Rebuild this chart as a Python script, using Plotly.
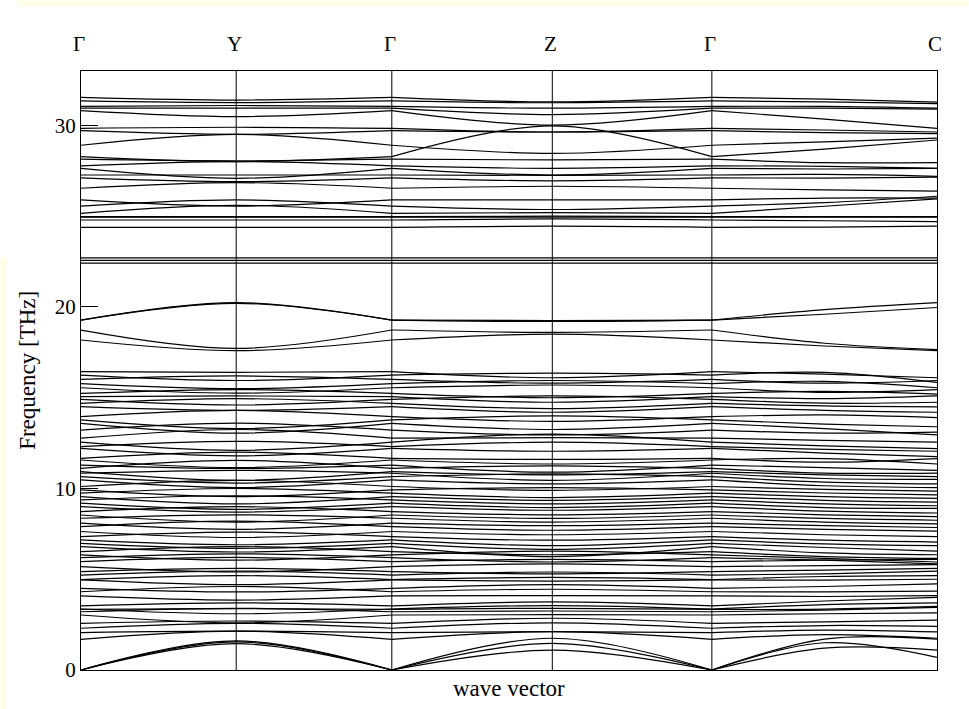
import plotly.graph_objects as go

# High-symmetry points of the path and their cumulative path length (normalised)
kpoint_labels = ["Γ", "Y", "Γ", "Z", "Γ", "C"]
kpoint_dist = [0.0, 0.1813, 0.3631, 0.5506, 0.7370, 1.0]

# Phonon branches, frequencies in THz sampled at: Γ, Y, Z, half-way along Γ–C, C
# (Γ–Y–Γ and Γ–Z–Γ are traversed symmetrically)
bands_upper = [
    [31.55, 31.40, 31.30, 31.45, 31.28],
    [31.35, 31.26, 31.25, 31.30, 31.20],
    [31.05, 31.10, 30.95, 31.05, 30.95],
    [30.95, 30.95, 30.60, 30.95, 30.90],
    [30.82, 30.49, 30.02, 30.35, 29.84],
    [29.84, 29.90, 29.64, 29.75, 29.64],
    [29.71, 29.51, 29.64, 29.60, 29.55],
    [28.91, 29.51, 28.46, 29.10, 29.30],
    [28.28, 28.01, 29.98, 28.70, 29.20],
    [28.14, 28.05, 28.10, 27.95, 27.95],
    [27.77, 28.01, 27.64, 27.75, 27.64],
    [27.64, 27.09, 27.27, 27.60, 27.64],
    [27.27, 27.27, 27.25, 27.30, 27.20],
    [27.11, 26.90, 26.95, 27.10, 27.15],
    [26.54, 26.85, 26.65, 26.45, 26.38],
    [25.90, 25.56, 25.90, 26.00, 26.00],
    [25.56, 25.90, 25.37, 25.75, 26.10],
    [25.16, 25.60, 25.20, 25.55, 25.95],
    [24.98, 24.98, 25.00, 24.98, 24.98],
    [24.95, 24.95, 24.95, 24.95, 24.95],
    [24.79, 24.79, 24.85, 24.75, 24.70],
    [24.39, 24.39, 24.45, 24.40, 24.45],
    [22.70, 22.70, 22.70, 22.70, 22.70],
    [22.57, 22.57, 22.57, 22.57, 22.57],
    [22.42, 22.42, 22.42, 22.42, 22.42],
]

bands_middle = [
    [19.28, 20.24, 19.25, 19.85, 20.24],
    [19.28, 20.20, 19.20, 19.60, 19.97],
    [18.73, 17.72, 18.60, 18.00, 17.65],
    [18.18, 17.59, 18.50, 17.85, 17.59],
]

bands_dense = [
    [16.44, 16.40, 16.10, 16.30, 16.10],
    [16.25, 15.95, 16.35, 16.40, 15.85],
    [16.01, 16.20, 15.80, 15.80, 15.95],
    [15.78, 15.50, 15.95, 15.90, 15.55],
    [15.55, 15.25, 15.70, 15.30, 15.45],
    [15.24, 15.45, 15.00, 15.35, 15.20],
    [15.06, 15.10, 14.75, 14.95, 15.10],
    [14.91, 14.60, 15.10, 14.70, 14.75],
    [14.69, 14.95, 14.40, 14.55, 14.50],
    [14.51, 14.30, 14.20, 14.30, 14.20],
    [13.96, 14.30, 13.70, 14.05, 13.90],
    [13.78, 13.30, 14.00, 13.55, 13.40],
    [13.59, 13.05, 13.25, 13.30, 12.95],
    [13.22, 13.60, 12.95, 13.05, 13.10],
    [12.77, 13.25, 12.80, 12.65, 12.55],
    [12.55, 12.10, 13.00, 12.35, 12.20],
    [12.31, 12.60, 12.55, 12.15, 12.05],
    [12.21, 11.80, 12.05, 11.95, 11.75],
    [11.66, 12.00, 11.60, 11.45, 11.65],
    [11.57, 11.15, 11.35, 11.65, 11.35],
    [11.29, 11.10, 10.90, 11.15, 11.00],
    [11.11, 11.55, 11.25, 10.85, 10.85],
    [10.93, 10.45, 10.75, 10.75, 10.65],
    [10.84, 11.00, 10.45, 10.55, 10.50],
    [10.65, 10.30, 10.80, 10.35, 10.25],
    [10.47, 10.05, 10.25, 10.15, 10.05],
    [10.11, 10.45, 9.90, 9.95, 9.85],
    [9.92, 9.55, 10.05, 9.75, 9.65],
    [9.74, 10.00, 9.50, 9.55, 9.45],
    [9.55, 9.15, 9.35, 9.35, 9.25],
    [9.37, 9.60, 9.15, 9.15, 9.05],
    [9.19, 8.85, 8.95, 8.95, 8.90],
    [9.00, 8.70, 8.80, 8.75, 8.65],
    [8.73, 9.00, 8.55, 8.55, 8.45],
    [8.54, 8.15, 8.35, 8.35, 8.25],
    [8.36, 8.55, 8.15, 8.15, 8.05],
    [8.09, 7.75, 7.95, 7.95, 7.85],
    [7.90, 8.20, 7.70, 7.75, 7.65],
    [7.63, 7.30, 7.45, 7.45, 7.35],
    [7.35, 7.60, 7.15, 7.15, 7.05],
    [7.17, 6.90, 6.85, 6.95, 6.85],
    [6.98, 6.70, 6.65, 6.75, 6.55],
    [6.80, 6.50, 6.25, 6.45, 6.35],
    [6.52, 6.80, 6.35, 6.25, 6.15],
    [6.34, 6.05, 6.55, 6.15, 5.95],
    [6.19, 6.40, 5.95, 6.05, 5.85],
]

bands_lower = [
    [5.97, 6.20, 6.10, 6.05, 6.10],
    [5.69, 5.40, 5.85, 5.75, 5.80],
    [5.42, 5.60, 5.30, 5.50, 5.60],
    [5.23, 5.45, 5.40, 5.30, 5.45],
    [4.98, 5.20, 5.10, 5.15, 5.20],
    [4.96, 4.70, 4.90, 4.95, 5.00],
    [4.50, 4.30, 4.70, 4.60, 4.75],
    [4.31, 4.60, 4.45, 4.30, 4.35],
    [4.08, 3.85, 4.10, 4.05, 4.10],
    [3.53, 3.70, 3.75, 3.80, 4.00],
    [3.36, 3.10, 3.55, 3.60, 3.70],
    [3.34, 3.38, 3.40, 3.35, 3.50],
    [3.21, 3.40, 3.25, 3.30, 3.45],
    [3.03, 2.60, 3.05, 3.10, 3.15],
    [2.57, 2.70, 2.85, 2.65, 2.75],
    [2.30, 2.57, 2.60, 2.45, 2.40],
    [2.06, 2.14, 2.11, 2.20, 2.10],
    [1.69, 2.14, 2.11, 1.95, 1.75],
]

bands_acoustic = [
    [0.0, 1.45, 1.10, 1.50, 0.70],
    [0.0, 1.55, 1.47, 1.20, 1.10],
    [0.0, 1.60, 1.75, 1.70, 1.70],
]

all_bands = bands_upper + bands_middle + bands_dense + bands_lower + bands_acoustic

# Each branch is drawn as three smooth arcs (Γ–Y–Γ, Γ–Z–Γ, Γ–C) so it may kink at Γ
d = kpoint_dist
arc_x = [d[0], d[1], d[2], None, d[2], d[3], d[4], None, d[4], (d[4] + d[5]) / 2, d[5]]

fig = go.Figure()
for g, y, z, cm, c in all_bands:
    fig.add_trace(go.Scatter(
        x=arc_x,
        y=[g, y, g, None, g, z, g, None, g, cm, c],
        mode="lines",
        connectgaps=False,
        line=dict(color="black", width=1.2, shape="spline", smoothing=1.0),
        hoverinfo="skip",
        showlegend=False,
    ))

serif = "Liberation Serif, Times New Roman, serif"

# Vertical separators at the inner high-symmetry points
shapes = []
for xv in kpoint_dist[1:-1]:
    shapes.append(dict(type="line", xref="x", yref="paper", x0=xv, x1=xv, y0=0, y1=1,
                       line=dict(color="black", width=1)))

# Pale page border strips around the figure
L, R, T, B = 80.7, 937.3, 70.7, 670.0
def px_rect(x0, y0, x1, y1, color):
    return dict(type="rect", xref="paper", yref="paper", layer="below",
                x0=(x0 - L) / (R - L), x1=(x1 - L) / (R - L),
                y0=(B - y1) / (B - T), y1=(B - y0) / (B - T),
                line=dict(width=0), fillcolor=color)

shapes.append(px_rect(18, 0, 969, 6, "#FFFDE6"))
shapes.append(px_rect(0, 257, 6, 709, "#FFFDE6"))

annotations = []
for lab, xv in zip(kpoint_labels, kpoint_dist):
    annotations.append(dict(text=lab, x=xv, xref="x", y=1, yref="paper",
                            yanchor="bottom", xanchor="center", yshift=13, xshift=-2,
                            showarrow=False, font=dict(family=serif, size=21, color="black")))
annotations.append(dict(text="wave vector", x=0.5, xref="paper", y=0, yref="paper",
                        yanchor="top", xanchor="center", yshift=-4, showarrow=False,
                        font=dict(family=serif, size=23, color="black")))
annotations.append(dict(text="Frequency [THz]", x=(27 - L) / (R - L), xref="paper",
                        y=0.5, yref="paper", xanchor="center", yanchor="middle",
                        textangle=-90, showarrow=False,
                        font=dict(family=serif, size=23, color="black")))

fig.update_layout(
    width=969, height=709,
    margin=dict(l=81, r=32, t=71, b=39),
    paper_bgcolor="white", plot_bgcolor="white",
    shapes=shapes, annotations=annotations,
    xaxis=dict(range=[0, 1], showgrid=False, zeroline=False, showticklabels=False,
               ticks="", showline=True, linecolor="black", linewidth=1, mirror=True),
    yaxis=dict(range=[0, 33], tickvals=[0, 10, 20, 30], ticks="inside", ticklen=17,
               tickcolor="black", tickwidth=1, showgrid=False, zeroline=False,
               showline=True, linecolor="black", linewidth=1, mirror=True,
               tickfont=dict(family=serif, size=21, color="black")),
)

fig.write_html("out.html")
